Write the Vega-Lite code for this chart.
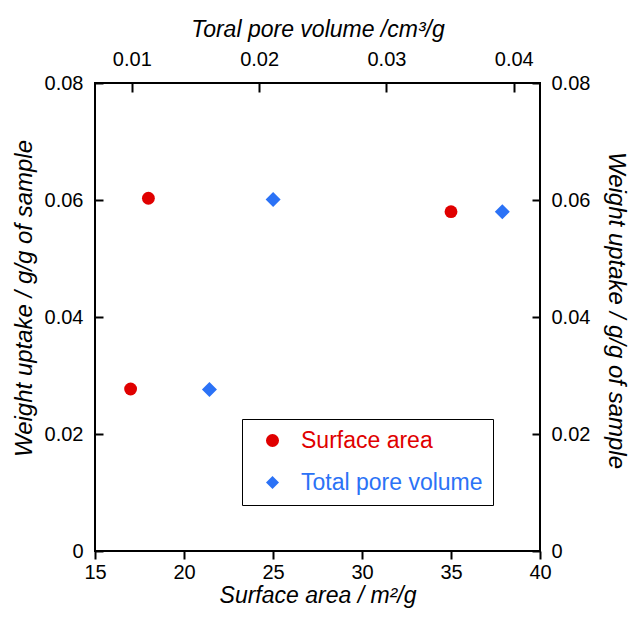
{
  "$schema": "https://vega.github.io/schema/vega-lite/v6.json",
  "autosize": "none",
  "width": 445,
  "height": 468,
  "padding": {"left": 95, "top": 83, "right": 91, "bottom": 69},
  "background": "white",
  "config": {
    "view": {"stroke": "black", "strokeWidth": 2},
    "font": "Liberation Sans",
    "axis": {
      "grid": false,
      "domain": false,
      "labelFlush": false,
      "tickColor": "black",
      "tickWidth": 2,
      "labelFont": "Liberation Sans",
      "labelFontSize": 20,
      "labelColor": "black",
      "titleFont": "Liberation Sans",
      "titleFontSize": 23,
      "titleFontWeight": "normal",
      "titleFontStyle": "italic",
      "titleColor": "black"
    }
  },
  "data": {
    "values": [
      {"series": "Surface area", "sa": 18, "pv": null, "wu": 0.0603},
      {"series": "Surface area", "sa": 35, "pv": null, "wu": 0.0580},
      {"series": "Surface area", "sa": 17, "pv": null, "wu": 0.0277},
      {"series": "Total pore volume", "sa": null, "pv": 0.0211, "wu": 0.0601},
      {"series": "Total pore volume", "sa": null, "pv": 0.0391, "wu": 0.0580},
      {"series": "Total pore volume", "sa": null, "pv": 0.0161, "wu": 0.0276}
    ]
  },
  "encoding": {
    "color": {
      "field": "series", "type": "nominal",
      "scale": {"domain": ["Surface area", "Total pore volume"], "range": ["#e00000", "#2b72f6"]},
      "legend": {
        "orient": "none", "legendX": 147, "legendY": 336,
        "title": null,
        "fillColor": "white", "strokeColor": "black",
        "padding": 10,
        "symbolOffset": 9,
        "labelOffset": 17,
        "rowPadding": 18,
        "symbolSize": 170,
        "symbolStrokeWidth": 0,
        "labelFont": "Liberation Sans",
        "labelFontSize": 23,
        "labelLimit": 400,
        "labelColor": {"expr": "datum.label === 'Surface area' ? '#e00000' : '#2b72f6'"},
        "encode": {
          "legend": {"update": {"strokeWidth": {"value": 1.5}}}
        }
      }
    },
    "shape": {
      "field": "series", "type": "nominal",
      "scale": {"domain": ["Surface area", "Total pore volume"], "range": ["circle", "diamond"]}
    }
  },
  "layer": [
    {
      "transform": [{"filter": "datum.series === 'Surface area'"}],
      "mark": {"type": "point", "filled": true, "size": 165, "opacity": 1},
      "encoding": {
        "x": {
          "field": "sa", "type": "quantitative",
          "scale": {"domain": [15, 40], "nice": false, "zero": false},
          "axis": {"orient": "bottom", "values": [15, 20, 25, 30, 35, 40], "tickSize": 8, "labelPadding": 3, "title": "Surface area / m²/g", "titlePadding": 2}
        },
        "y": {
          "field": "wu", "type": "quantitative",
          "scale": {"domain": [0, 0.08], "nice": false},
          "axis": {"orient": "left", "offset": -8, "values": [0, 0.02, 0.04, 0.06, 0.08], "labelExpr": "datum.value == 0 ? '0' : format(datum.value, '.2f')", "tickSize": 8, "labelPadding": 12, "title": "Weight uptake / g/g of sample", "titleFontSize": 24, "titlePadding": 8, "titleY": 215}
        }
      }
    },
    {
      "transform": [{"filter": "datum.series === 'Total pore volume'"}],
      "mark": {"type": "point", "filled": true, "size": 225, "opacity": 1},
      "encoding": {
        "x": {
          "field": "pv", "type": "quantitative",
          "scale": {"domain": [0.00711, 0.04206], "nice": false, "zero": false},
          "axis": {"orient": "top", "offset": -9, "values": [0.01, 0.02, 0.03, 0.04], "format": ".2f", "tickSize": 9, "labelPadding": 14, "title": "Toral pore volume /cm³/g", "titlePadding": 8}
        },
        "y": {
          "field": "wu", "type": "quantitative",
          "scale": {"domain": [0, 0.08], "nice": false},
          "axis": {"orient": "right", "offset": -8, "values": [0, 0.02, 0.04, 0.06, 0.08], "labelExpr": "datum.value == 0 ? '0' : format(datum.value, '.2f')", "tickSize": 8, "labelPadding": 11, "title": "Weight uptake / g/g of sample", "titleFontSize": 24, "titleAngle": 90, "titlePadding": 14, "titleY": 227}
        }
      }
    }
  ],
  "resolve": {"scale": {"x": "independent", "y": "independent"}}
}
